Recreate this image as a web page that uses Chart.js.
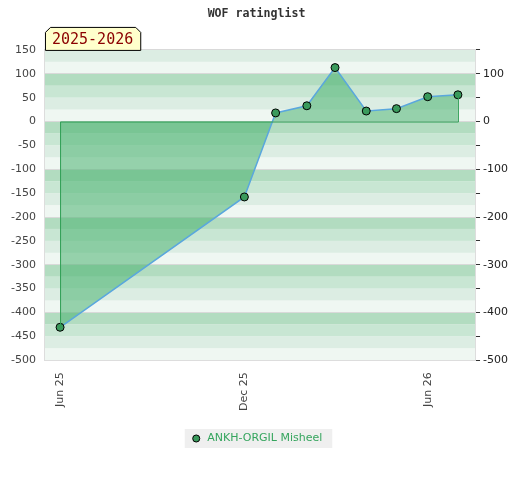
<!DOCTYPE html>
<html>
<head>
<meta charset="utf-8">
<script src="https://cdn.jsdelivr.net/npm/chart.js@4.4.1/dist/chart.umd.min.js"></script>
<style>
  body { margin: 0; background: #fff; }
  #wrap { width: 520px; height: 480px; }
</style>
</head>
<body>
<div id="wrap"><canvas id="ratingChart" width="520" height="480"></canvas></div>
<script>
const dates = ['2025-06-01', '2025-12-01', '2026-01-01', '2026-02-01', '2026-03-01',
               '2026-04-01', '2026-05-01', '2026-06-01', '2026-07-01'];
const ratings = [-431, -158, 18, 33, 113, 22, 27, 52, 56];
const tickDates = ['2025-06-01', '2025-12-01', '2026-06-01'];
const tickLabels = ['Jun 25', 'Dec 25', 'Jun 26'];
const playerName = 'ANKH-ORGIL Misheel';
const seasonLabel = '2025-2026';

const DAY = 86400000;
const toDay = s => Math.round(Date.parse(s + 'T00:00:00Z') / DAY);
const points = dates.map((d, i) => ({ x: toDay(d), y: ratings[i] }));

const bandColors = ['#eff7f2', '#dcede3', '#c8e6d3', '#b2dcc0'];

const decor = {
    id: 'decor',
    beforeDraw(chart) {
        const { ctx, chartArea: a, scales: { y } } = chart;
        ctx.save();
        for (let v = y.min; v < y.max; v += 25) {
            const idx = ((Math.floor(v / 25) % 4) + 4) % 4;
            const top = y.getPixelForValue(v + 25), bot = y.getPixelForValue(v);
            ctx.fillStyle = bandColors[idx];
            ctx.fillRect(a.left, top, a.right - a.left, bot - top);
        }
        // legend background
        const lg = chart.legend;
        if (lg && lg.legendHitBoxes.length) {
            const hb = lg.legendHitBoxes[0];
            ctx.fillStyle = '#efefef';
            ctx.fillRect(hb.left - 6, hb.top - 4, hb.width + 16, hb.height + 8);
        }
        ctx.restore();
    },
    afterDatasetsDraw(chart) {
        const { ctx, scales: { x, y } } = chart;
        const x0 = x.getPixelForValue(points[0].x);
        const x1 = x.getPixelForValue(points[points.length - 1].x);
        const z = y.getPixelForValue(0);
        ctx.save();
        ctx.strokeStyle = '#2f9e55';
        ctx.lineWidth = 1;
        ctx.beginPath();
        ctx.moveTo(x0 + 0.5, y.getPixelForValue(points[0].y));
        ctx.lineTo(x0 + 0.5, z + 0.5);
        ctx.lineTo(x1 + 0.5, z + 0.5);
        ctx.lineTo(x1 + 0.5, y.getPixelForValue(points[points.length - 1].y));
        ctx.stroke();
        ctx.restore();
    },
    afterDraw(chart) {
        const { ctx, chartArea: a } = chart;
        ctx.save();
        ctx.font = '15px "DejaVu Sans Mono", monospace';
        const w = ctx.measureText(seasonLabel).width + 14;
        const l = a.left + 0.5, r = a.left + w + 0.5, t = a.top - 22.5, b = a.top + 0.5, c = 5;
        ctx.beginPath();
        ctx.moveTo(l, b);
        ctx.lineTo(l, t + c);
        ctx.lineTo(l + c, t);
        ctx.lineTo(r - c, t);
        ctx.lineTo(r, t + c);
        ctx.lineTo(r, b);
        ctx.closePath();
        ctx.fillStyle = '#ffffcc';
        ctx.fill();
        ctx.strokeStyle = '#000';
        ctx.lineWidth = 1;
        ctx.stroke();
        ctx.fillStyle = '#8b0000';
        ctx.textBaseline = 'middle';
        ctx.fillText(seasonLabel, a.left + 7, (t + b) / 2 + 1);
        ctx.restore();
    }
};

new Chart(document.getElementById('ratingChart').getContext('2d'), {
    type: 'line',
    data: {
        datasets: [{
            label: playerName,
            data: points,
            borderColor: '#5aa7dd',
            borderWidth: 1.5,
            backgroundColor: 'rgba(72, 177, 110, 0.54)',
            fill: 'origin',
            tension: 0,
            pointRadius: 4,
            pointBackgroundColor: '#3a9a5c',
            pointBorderColor: '#000',
            pointBorderWidth: 1,
        }],
    },
    options: {
        responsive: false,
        animation: false,
        layout: { padding: { left: 2, right: 9, bottom: 26, top: 0 } },
        plugins: {
            title: {
                display: true,
                text: 'WOF ratinglist',
                color: '#333',
                font: { family: '"DejaVu Sans Mono", monospace', size: 11.6, weight: 'bold' },
                padding: { top: 7, bottom: 29 },
            },
            legend: {
                position: 'bottom',
                labels: {
                    usePointStyle: true,
                    pointStyle: 'circle',
                    boxWidth: 12,
                    boxHeight: 5,
                    color: '#35a55e',
                    font: { family: '"DejaVu Sans", sans-serif', size: 11 },
                    padding: 10,
                },
            },
            tooltip: { enabled: false },
        },
        scales: {
            x: {
                type: 'linear',
                min: points[0].x - 15,
                max: points[points.length - 1].x + 17,
                afterBuildTicks: axis => { axis.ticks = tickDates.map(d => ({ value: toDay(d) })); },
                ticks: {
                    minRotation: 90,
                    maxRotation: 90,
                    padding: 12,
                    color: '#444',
                    font: { family: '"DejaVu Sans", sans-serif', size: 11 },
                    callback: v => tickLabels[tickDates.findIndex(d => toDay(d) === v)],
                },
                grid: { display: false, drawTicks: false },
                border: { display: true, color: '#dddddd' },
            },
            y: {
                position: 'left',
                min: -500,
                max: 150,
                ticks: {
                    stepSize: 50,
                    padding: 9,
                    color: '#444',
                    font: { family: '"DejaVu Sans", sans-serif', size: 11 },
                },
                grid: {
                    drawTicks: false,
                    color: ctx => (ctx.tick.value % 100 === 0 || ctx.tick.value === 150) ? '#d9d9d9' : 'rgba(0,0,0,0)',
                },
                border: { display: true, color: '#dddddd' },
            },
            y2: {
                position: 'right',
                min: -500,
                max: 150,
                ticks: {
                    stepSize: 50,
                    padding: 3,
                    color: '#222',
                    font: { family: '"DejaVu Sans", sans-serif', size: 11 },
                    callback: v => (v % 100 === 0 ? v : ''),
                },
                grid: { drawOnChartArea: false, tickLength: 5, color: '#333' },
                border: { display: true, color: '#dddddd' },
            },
        },
    },
    plugins: [decor],
});
</script>
</body>
</html>
